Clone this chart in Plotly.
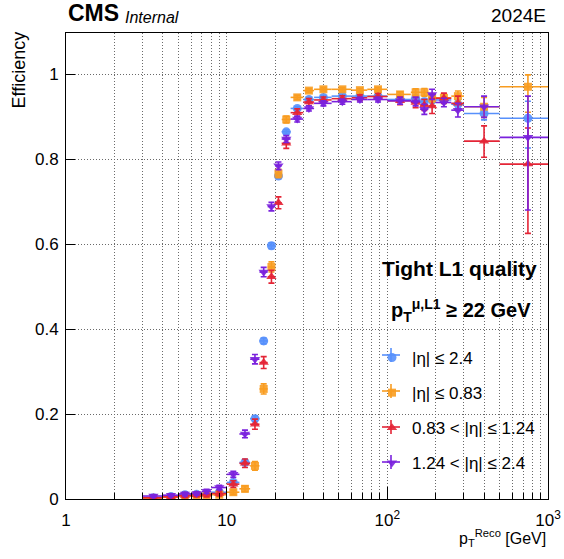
import plotly.graph_objects as go

# ---------------- data ----------------
bin_edges = [3, 4, 5, 6, 7, 8, 10, 12, 14, 16, 18, 20, 22, 25, 30, 35, 45, 60, 75,
             100, 140, 160, 180, 200, 250, 300, 500, 1000]

eff_all = [0.003, 0.006, 0.010, 0.011, 0.012, 0.016, 0.039, 0.086, 0.189, 0.372, 0.596,
           0.760, 0.864, 0.919, 0.940, 0.945, 0.948, 0.948, 0.948, 0.940, 0.943, 0.935,
           0.940, 0.939, 0.929, 0.907, 0.896]
eff_b = [0.002, 0.004, 0.007, 0.008, 0.008, 0.010, 0.016, 0.024, 0.078, 0.259, 0.546,
         0.766, 0.893, 0.945, 0.961, 0.964, 0.964, 0.962, 0.964, 0.952, 0.957, 0.957,
         0.944, 0.944, 0.948, 0.923, 0.970]
eff_o = [0.003, 0.005, 0.008, 0.010, 0.011, 0.013, 0.035, 0.084, 0.176, 0.321, 0.523,
         0.697, 0.837, 0.909, 0.934, 0.939, 0.942, 0.944, 0.947, 0.937, 0.933, 0.927,
         0.925, 0.943, 0.931, 0.842, 0.788]
eff_e = [0.007, 0.009, 0.012, 0.013, 0.018, 0.027, 0.058, 0.153, 0.329, 0.534, 0.688,
         0.784, 0.847, 0.894, 0.919, 0.931, 0.935, 0.940, 0.940, 0.937, 0.935, 0.917,
         0.952, 0.933, 0.915, 0.923, 0.851]

err_all_up = [0.002, 0.002, 0.003, 0.003, 0.003, 0.003, 0.004, 0.006, 0.007, 0.007, 0.007,
              0.006, 0.005, 0.004, 0.004, 0.003, 0.003, 0.003, 0.003, 0.004, 0.006, 0.007,
              0.008, 0.007, 0.010, 0.015, 0.040]
err_all_dn = [0.002, 0.002, 0.003, 0.003, 0.003, 0.003, 0.004, 0.006, 0.007, 0.007, 0.007,
              0.006, 0.005, 0.004, 0.004, 0.003, 0.003, 0.003, 0.003, 0.004, 0.006, 0.007,
              0.008, 0.007, 0.010, 0.015, 0.070]
err_b_up = [0.002, 0.003, 0.004, 0.004, 0.004, 0.004, 0.005, 0.007, 0.010, 0.012, 0.012,
            0.010, 0.008, 0.005, 0.004, 0.004, 0.004, 0.004, 0.004, 0.006, 0.008, 0.009,
            0.010, 0.009, 0.012, 0.022, 0.028]
err_b_dn = [0.002, 0.003, 0.004, 0.004, 0.004, 0.004, 0.005, 0.007, 0.010, 0.012, 0.012,
            0.010, 0.008, 0.005, 0.004, 0.004, 0.004, 0.004, 0.004, 0.006, 0.008, 0.009,
            0.010, 0.009, 0.012, 0.025, 0.060]
err_o_up = [0.003, 0.004, 0.005, 0.005, 0.006, 0.006, 0.008, 0.010, 0.012, 0.014, 0.015,
            0.014, 0.012, 0.009, 0.008, 0.007, 0.007, 0.007, 0.007, 0.009, 0.012, 0.013,
            0.018, 0.012, 0.017, 0.036, 0.085]
err_o_dn = [0.003, 0.004, 0.005, 0.005, 0.006, 0.006, 0.008, 0.010, 0.012, 0.014, 0.015,
            0.014, 0.012, 0.009, 0.008, 0.007, 0.007, 0.007, 0.007, 0.009, 0.012, 0.013,
            0.018, 0.012, 0.017, 0.038, 0.163]
err_e_up = [0.003, 0.003, 0.004, 0.004, 0.005, 0.005, 0.007, 0.009, 0.011, 0.011, 0.010,
            0.009, 0.008, 0.007, 0.006, 0.006, 0.006, 0.006, 0.006, 0.008, 0.010, 0.012,
            0.012, 0.010, 0.016, 0.025, 0.097]
err_e_dn = [0.003, 0.003, 0.004, 0.004, 0.005, 0.005, 0.007, 0.009, 0.011, 0.011, 0.010,
            0.009, 0.008, 0.007, 0.006, 0.006, 0.006, 0.006, 0.006, 0.008, 0.010, 0.012,
            0.012, 0.010, 0.016, 0.025, 0.171]

series_names = ["|η| ≤ 2.4", "|η| ≤ 0.83", "0.83 < |η| ≤ 1.24", "1.24 < |η| ≤ 2.4"]
series_colors = ["#5790fc", "#f89c20", "#e42536", "#7a21dd"]
series_symbols = ["circle", "square", "triangle-up", "triangle-down"]

x_tick_vals = [1, 10, 100, 1000]
x_tick_text = ["1", "10", "10<sup>2</sup>", "10<sup>3</sup>"]
x_minor_vals = [m * d for d in (1, 10, 100) for m in range(2, 10)]
y_tick_vals = [0, 0.2, 0.4, 0.6, 0.8, 1.0]

# ---------------- derived ----------------
lo = bin_edges[:-1]
hi = bin_edges[1:]
centers = [(a + b) / 2 for a, b in zip(lo, hi)]
ex_plus = [b - c for b, c in zip(hi, centers)]
ex_minus = [c - a for a, c in zip(lo, centers)]

FONT = "Liberation Sans, Arial, Helvetica, sans-serif"
GRID = "#6a6a6a"
W, H = 564, 559
ML, MR, MT, MB = 66, 16, 33, 60
PW, PH = W - ML - MR, H - MT - MB


def px2paper(px, py):
    return (px - ML) / PW, (H - MB - py) / PH


fig = go.Figure()
effs = [eff_all, eff_b, eff_o, eff_e]
ups = [err_all_up, err_b_up, err_o_up, err_e_up]
dns = [err_all_dn, err_b_dn, err_o_dn, err_e_dn]
msizes = [9, 8, 9, 9]
for i in range(4):
    col = series_colors[i]
    fig.add_trace(go.Scatter(
        x=centers, y=effs[i], mode="markers", name=series_names[i],
        legendgroup=f"g{i}",
        marker=dict(symbol=series_symbols[i], color=col, size=msizes[i],
                    opacity=0.9, line=dict(width=0)),
        error_x=dict(type="data", symmetric=False, array=ex_plus, arrayminus=ex_minus,
                     color=col, thickness=1.6, width=0),
        error_y=dict(type="data", symmetric=False, array=ups[i], arrayminus=dns[i],
                     color=col, thickness=1.6, width=3),
    ))

lx, ly = px2paper(372, 340)
fig.update_layout(
    width=W, height=H, autosize=False,
    margin=dict(l=ML, r=MR, t=MT, b=MB, autoexpand=False),
    paper_bgcolor="white", plot_bgcolor="white",
    font=dict(family=FONT, size=17, color="black"),
    showlegend=True,
    legend=dict(x=lx, y=ly, xanchor="left", yanchor="top",
                bgcolor="rgba(0,0,0,0)", font=dict(size=17, family=FONT),
                traceorder="grouped", tracegroupgap=10, itemsizing="trace"),
)

fig.update_xaxes(
    type="log", range=[0, 3],
    tickmode="array", tickvals=x_tick_vals, ticktext=x_tick_text,
    ticks="inside", ticklen=12, tickcolor="black", tickwidth=1,
    showline=True, linecolor="black", linewidth=1, mirror=True,
    showgrid=True, gridcolor=GRID, griddash="1px,2px", gridwidth=1,
    minor=dict(tickmode="array", tickvals=x_minor_vals, ticks="inside", ticklen=6,
               tickcolor="black", showgrid=True, gridcolor=GRID, griddash="1px,2px", gridwidth=1),
    tickfont=dict(size=17), ticklabelstandoff=6, zeroline=False, automargin=False,
)
fig.update_yaxes(
    range=[0, 1.0965], tickmode="array", tickvals=y_tick_vals,
    ticks="inside", ticklen=9, tickcolor="black", tickwidth=1,
    showline=True, linecolor="black", linewidth=1, mirror=True,
    showgrid=True, gridcolor=GRID, griddash="1px,2px", gridwidth=1,
    tickfont=dict(size=17), ticklabelstandoff=3, zeroline=False, automargin=False,
)

hx, hy = px2paper(66, 28)
ann = [
    dict(text="<b>CMS</b>", x=0, y=hy, xref="paper", yref="paper", xanchor="left", yanchor="bottom",
         showarrow=False, font=dict(size=23)),
    dict(text="<i>Internal</i>", x=0.118, y=hy, xref="paper", yref="paper", xanchor="left", yanchor="bottom",
         showarrow=False, font=dict(size=16)),
    dict(text="2024E", x=1, y=hy, xref="paper", yref="paper", xanchor="right", yanchor="bottom",
         showarrow=False, font=dict(size=19)),
    dict(text="Efficiency", x=px2paper(18, 0)[0], y=px2paper(0, 30)[1], xref="paper", yref="paper",
         xanchor="center", yanchor="top", textangle=-90, showarrow=False, font=dict(size=18)),
    dict(text="p<sub>T</sub><sup>Reco</sup> [GeV]", x=1, y=px2paper(0, 538)[1], xref="paper", yref="paper",
         xanchor="right", yanchor="middle", showarrow=False, font=dict(size=16)),
    dict(text="<b>Tight L1 quality</b>", x=px2paper(459, 0)[0], y=px2paper(0, 268)[1], xref="paper", yref="paper",
         xanchor="center", yanchor="middle", showarrow=False, font=dict(size=21)),
    dict(text="<b>p<sub>T</sub><sup>μ,L1</sup> ≥ 22 GeV</b>", x=px2paper(461, 0)[0], y=px2paper(0, 310)[1],
         xref="paper", yref="paper",
         xanchor="center", yanchor="middle", showarrow=False, font=dict(size=20)),
]
fig.update_layout(annotations=ann)

# error-bar crosses drawn behind the legend symbols (legend decoration, as in ROOT legends)
legend_icon_x = 391
legend_icon_y = [355, 391, 427, 462]
shapes = []
for i, yy in enumerate(legend_icon_y):
    x0, y0 = px2paper(legend_icon_x - 9, yy)
    x1, _ = px2paper(legend_icon_x + 9, yy)
    shapes.append(dict(type="line", xref="paper", yref="paper", x0=x0, x1=x1, y0=y0, y1=y0,
                       line=dict(color=series_colors[i], width=1.6)))
    _, ya = px2paper(0, yy - 7)
    _, yb = px2paper(0, yy + 7)
    xc, _ = px2paper(legend_icon_x, yy)
    shapes.append(dict(type="line", xref="paper", yref="paper", x0=xc, x1=xc, y0=ya, y1=yb,
                       line=dict(color=series_colors[i], width=1.6)))
fig.update_layout(shapes=shapes)

fig.write_html("out.html", config={"displayModeBar": False, "responsive": False},
               post_script="document.body.style.margin='0px';document.body.style.overflow='hidden';")
